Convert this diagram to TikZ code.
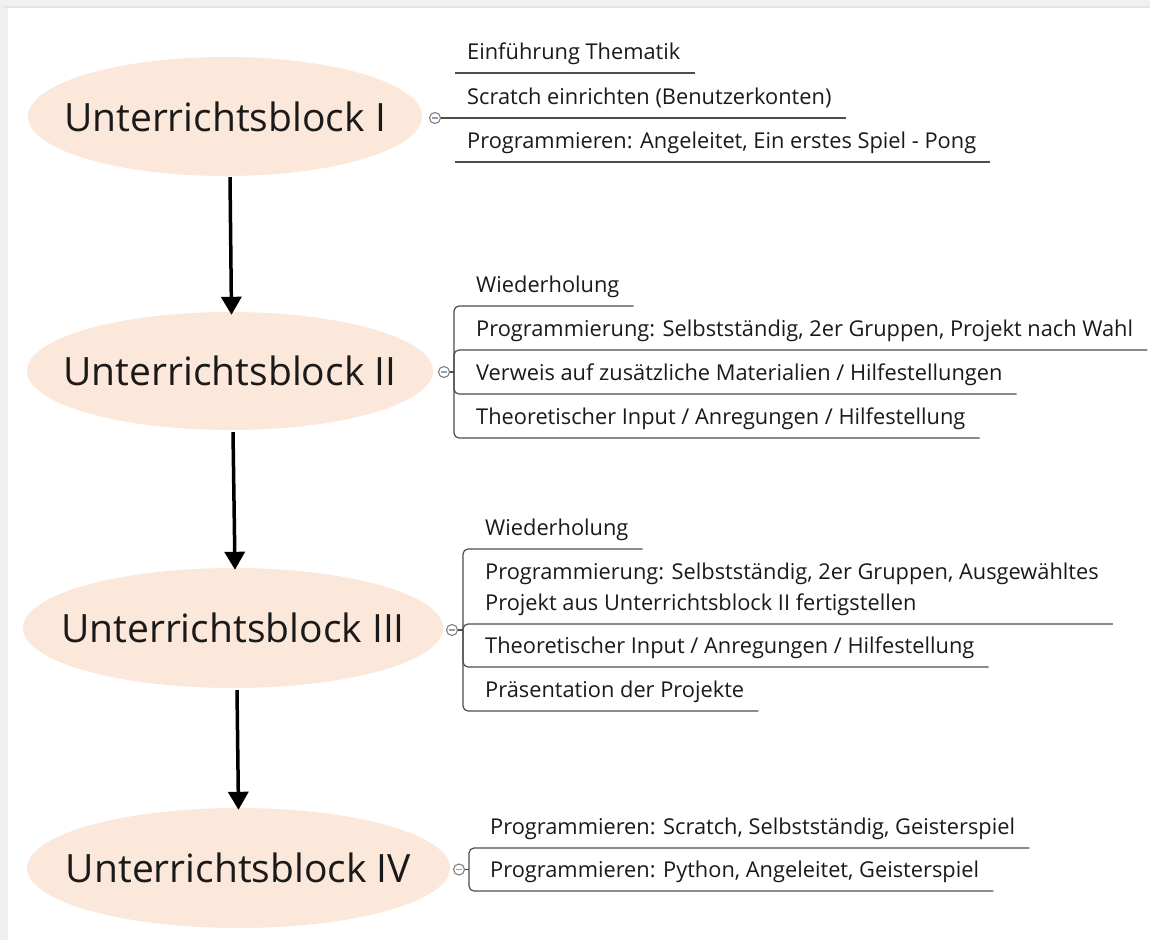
\documentclass[tikz,border=0pt]{standalone}
\usepackage{fontspec}
\setmainfont{Open Sans}
\usetikzlibrary{shapes.geometric,arrows.meta,calc}
\definecolor{peach}{HTML}{FCE8DA}
\definecolor{txt}{HTML}{1A1A1A}
\definecolor{ln}{HTML}{4D4D4D}
\definecolor{circ}{HTML}{7F7F7F}
\definecolor{minusc}{HTML}{8CA0C0}
\begin{document}
\begin{tikzpicture}[x=1pt,y=-1pt,
  blk/.style={ellipse, fill=peach, inner sep=0pt, font=\fontsize{39}{41}\selectfont, text=txt, text height=29pt, text depth=0pt},
  item/.style={anchor=base west, inner sep=0pt, font=\fontsize{21.8}{31}\selectfont, text=txt, align=left},
  knob/.style={circle, draw=circ, fill=white, line width=1.1pt, minimum size=11pt, inner sep=0pt,
    path picture={\draw[minusc, line width=1.2pt] ([xshift=-3pt]path picture bounding box.center) -- ([xshift=3pt]path picture bounding box.center);}},
  conn/.style={draw=ln, line width=1.2pt, rounded corners=5pt},
  flow/.style={line width=3.5pt, -{Triangle[width=20pt,length=18pt]}}
]
\useasboundingbox (0,0) rectangle (1150,940);
\fill[white] (0,0) rectangle (1150,940);
\fill[black!6] (0,0) rectangle (8,940);
\fill[black!6] (0,0) rectangle (1150,7);
\fill[black!10] (3,6) rectangle (1150,8);

% main blocks
\node[blk, minimum width=394pt, minimum height=119pt] (e1) at (225,116.5) {\makebox[0pt]{Unterrichtsblock I}};
\node[blk, minimum width=406pt, minimum height=118pt] (e2) at (230,371) {\makebox[0pt]{Unterrichtsblock II}};
\node[blk, minimum width=420pt, minimum height=120pt] (e3) at (233,628) {\makebox[0pt]{Unterrichtsblock III}};
\node[blk, minimum width=423pt, minimum height=120pt] (e4) at (238.5,868) {\makebox[0pt]{Unterrichtsblock IV}};

\draw[flow] ($(e1.south)+(5,1)$) -- ($(e2.north)+(1.5,3)$);
\draw[flow] ($(e2.south)+(3,2)$) -- ($(e3.north)+(2,2)$);
\draw[flow] ($(e3.south)+(4,2)$) -- ($(e4.north)+(0,2)$);

% collapse knobs
\node[knob] (c1) at (435,118) {};
\node[knob] (c2) at (444,372) {};
\node[knob] (c3) at (452,630) {};
\node[knob] (c4) at (459,869.5) {};
\coordinate (b1) at (455,118);
\coordinate (b2) at (454,372);
\coordinate (b3) at (463,630);
\coordinate (b4) at (469,869.5);

% block I
\node[item] (i11) at (467,59) {Einführung Thematik};
\node[item] (i12) at (467,104) {Scratch einrichten (Benutzerkonten)};
\node[item] (i13) at (467,148) {Programmieren: Angeleitet, Ein erstes Spiel - Pong};
\coordinate (u11) at ($(i11.base east)+(14,14)$);
\coordinate (u12) at ($(i12.base east)+(14,14)$);
\coordinate (u13) at ($(i13.base east)+(14,14)$);
\draw[conn] (b1 |- u11) -- (u11);
\draw[conn] (c1.east) -- (u12);
\draw[conn] (b1 |- u13) -- (u13);

% block II
\node[item] (i21) at (476,292) {Wiederholung};
\node[item] (i22) at (476,336) {Programmierung: Selbstständig, 2er Gruppen, Projekt nach Wahl};
\node[item] (i23) at (476,380) {Verweis auf zusätzliche Materialien / Hilfestellungen};
\node[item] (i24) at (476,424) {Theoretischer Input / Anregungen / Hilfestellung};
\coordinate (u21) at ($(i21.base east)+(14,14)$);
\coordinate (u22) at ($(i22.base east)+(14,14)$);
\coordinate (u23) at ($(i23.base east)+(14,14)$);
\coordinate (u24) at ($(i24.base east)+(14,14)$);
\draw[conn] (c2.east) -- (b2);
\draw[conn] (b2) |- (u21);
\draw[conn] (b2) |- (u22);
\draw[conn] (b2) |- (u23);
\draw[conn] (b2) |- (u24);

% block III
\node[item] (i31) at (485,535) {Wiederholung};
\node[item] (i32) at (485,610) {Programmierung: Selbstständig, 2er Gruppen, Ausgewähltes\\Projekt aus Unterrichtsblock II fertigstellen};
\node[item] (i33) at (485,653) {Theoretischer Input / Anregungen / Hilfestellung};
\node[item] (i34) at (485,697) {Präsentation der Projekte};
\coordinate (u31) at ($(i31.base east)+(14,14)$);
\coordinate (u32) at ($(i32.east |- 0,624)+(14,0)$);
\coordinate (u33) at ($(i33.base east)+(14,14)$);
\coordinate (u34) at ($(i34.base east)+(14,14)$);
\draw[conn] (c3.east) -- (b3);
\draw[conn] (b3) |- (u31);
\draw[conn] (b3) |- (u32);
\draw[conn] (b3) |- (u33);
\draw[conn] (b3) |- (u34);

% block IV
\node[item] (i41) at (490,834) {Programmieren: Scratch, Selbstständig, Geisterspiel};
\node[item] (i42) at (490,877) {Programmieren: Python, Angeleitet, Geisterspiel};
\coordinate (u41) at ($(i41.base east)+(14,14)$);
\coordinate (u42) at ($(i42.base east)+(14,14)$);
\draw[conn] (c4.east) -- (b4);
\draw[conn] (b4) |- (u41);
\draw[conn] (b4) |- (u42);
\end{tikzpicture}
\end{document}
